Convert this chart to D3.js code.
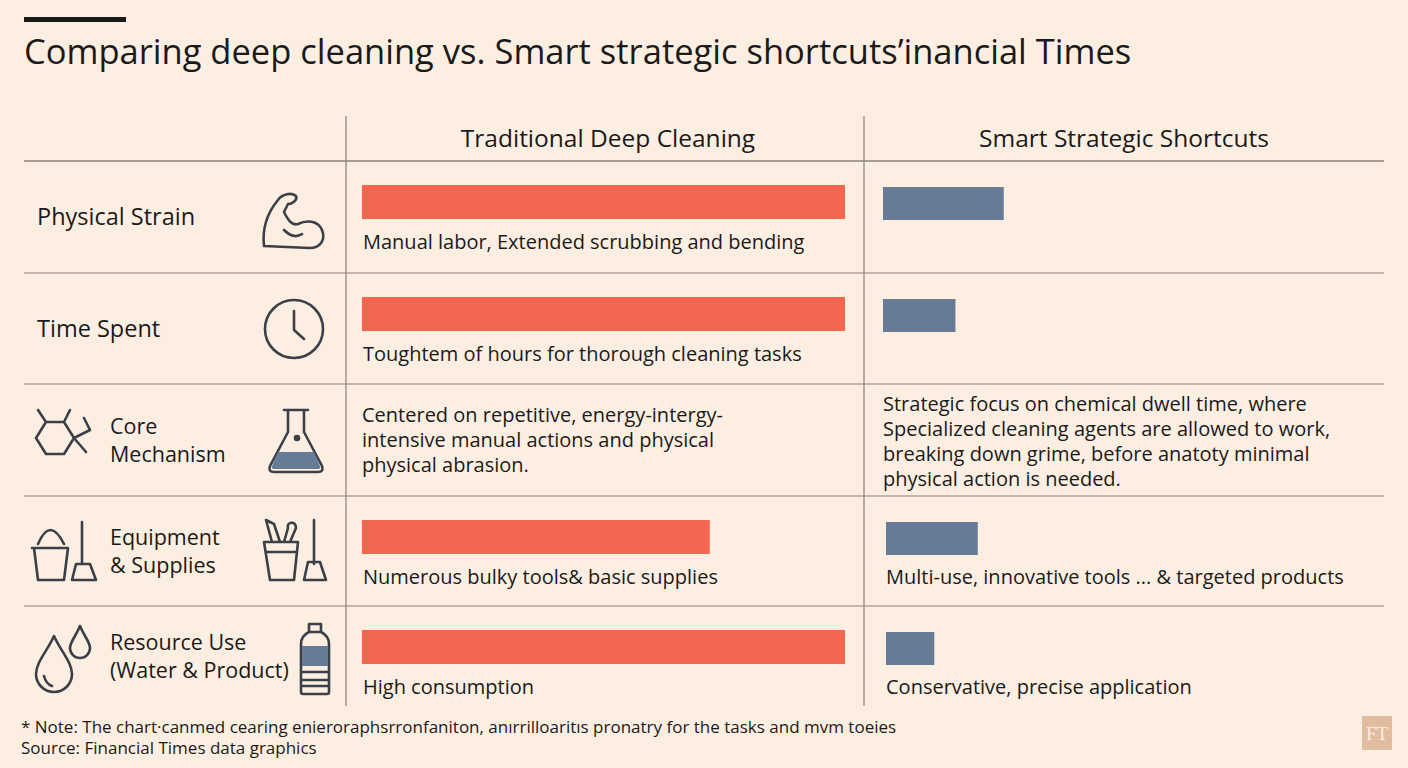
<!DOCTYPE html>
<html>
<head>
<meta charset="utf-8">
<script src="https://cdn.jsdelivr.net/npm/d3@7"></script>
<style>
  body { margin: 0; background: #fdeee2; }
  svg { display: block; font-family: "Open Sans", "Noto Sans", sans-serif; }
</style>
</head>
<body>
<svg id="chart" width="1408" height="768"></svg>
<script>
// Chart data
const categories = ["Physical Strain", "Time Spent", "Core Mechanism", "Equipment & Supplies", "Resource Use (Water & Product)"];
const labelLines = [["Physical Strain"], ["Time Spent"], ["Core", "Mechanism"], ["Equipment", "& Supplies"], ["Resource Use", "(Water & Product)"]];
const traditionalValues = [100, 100, null, 72, 100];
const smartValues = [25, 15, null, 19, 10];
const traditionalNotes = [
  ["Manual labor, Extended scrubbing and bending"],
  ["Toughtem of hours for thorough cleaning tasks"],
  ["Centered on repetitive, energy-intergy-", "intensive manual actions and physical", "physical abrasion."],
  ["Numerous bulky tools& basic supplies"],
  ["High consumption"]
];
const smartNotes = [
  [], [],
  ["Strategic focus on chemical dwell time, where", "Specialized cleaning agents are allowed to work,", "breaking down grime, before anatoty minimal", "physical action is needed."],
  ["Multi-use, innovative tools ... & targeted products"],
  ["Conservative, precise application"]
];
const columnHeaders = ["Traditional Deep Cleaning", "Smart Strategic Shortcuts"];

const svg = d3.select("#chart");
const ink = "#1a1a1a", iconInk = "#3b4048", grid = "#8a8079";
const redBar = "#f4664f", blueBar = "#687b96";

// Title
svg.append("rect").attr("x", 24).attr("y", 17).attr("width", 102).attr("height", 5).attr("fill", ink);
svg.append("text").attr("x", 24).attr("y", 64).attr("font-size", 34.5).attr("fill", ink)
  .text("Comparing deep cleaning vs. Smart strategic shortcuts\u2019inancial Times");

// Layout
const rowEdges = [161, 273, 384, 496, 606, 706];
const col1 = 346, col2 = 864;
const trad = d3.scaleLinear().domain([0, 100]).range([362, 845]);
const smart = d3.scaleLinear().domain([0, 100]).range([883, 1366]);

// Grid
svg.append("line").attr("x1", 24).attr("x2", 1384).attr("y1", 161).attr("y2", 161).attr("stroke", grid).attr("stroke-width", 1.5);
rowEdges.slice(1, 5).forEach(y => svg.append("line").attr("x1", 24).attr("x2", 1384).attr("y1", y).attr("y2", y).attr("stroke", grid).attr("stroke-width", 1.2));
[col1, col2].forEach(x => svg.append("line").attr("x1", x).attr("x2", x).attr("y1", 116).attr("y2", 706).attr("stroke", grid).attr("stroke-width", 1.2));

// Column headers
svg.selectAll(".hdr").data(columnHeaders).enter().append("text")
  .attr("x", (d, i) => i === 0 ? (col1 + col2) / 2 + 3 : (col2 + 1384) / 2)
  .attr("y", 147).attr("text-anchor", "middle").attr("font-size", 24.5).attr("fill", ink).text(d => d);

// Row labels
const labelX = [37, 37, 110, 110, 110];
categories.forEach((c, i) => {
  const lines = labelLines[i];
  const mid = (rowEdges[i] + rowEdges[i + 1]) / 2;
  lines.forEach((ln, k) => svg.append("text").attr("font-size", lines.length > 1 ? 21.5 : 23.5).attr("fill", ink)
    .attr("x", labelX[i]).attr("y", mid + 8 + (k - (lines.length - 1) / 2) * 28).text(ln));
});

// Bars
const barH = 34;
categories.forEach((c, i) => {
  const top = rowEdges[i];
  if (traditionalValues[i] != null) {
    svg.append("rect").attr("x", trad(0)).attr("y", top + 24).attr("width", trad(traditionalValues[i]) - trad(0)).attr("height", barH).attr("fill", redBar);
    svg.append("rect").attr("x", smart(0) + (i >= 3 ? 3 : 0)).attr("y", top + 26).attr("width", smart(smartValues[i]) - smart(0)).attr("height", barH - 1).attr("fill", blueBar);
    svg.append("text").attr("x", trad(0) + 1).attr("y", top + 88).attr("font-size", 20).attr("fill", ink).text(traditionalNotes[i][0]);
    if (smartNotes[i].length) svg.append("text").attr("x", smart(0) + 3).attr("y", top + 88).attr("font-size", 20).attr("fill", ink).text(smartNotes[i][0]);
  } else {
    traditionalNotes[i].forEach((ln, k) => svg.append("text").attr("x", trad(0)).attr("y", top + 38 + k * 25).attr("font-size", 20).attr("fill", ink).text(ln));
    smartNotes[i].forEach((ln, k) => svg.append("text").attr("x", smart(0)).attr("y", top + 27 + k * 25).attr("font-size", 20).attr("fill", ink).text(ln));
  }
});

// Icons
function icon(x, y) { return svg.append("g").attr("transform", `translate(${x},${y})`)
  .attr("fill", "none").attr("stroke", iconInk).attr("stroke-width", 2.6).attr("stroke-linecap", "round").attr("stroke-linejoin", "round"); }

// arm
icon(262, 190).append("path").attr("d", "M2 56 C0 38 6 22 16 10 C20 4 30 2 34 6 C36 10 30 14 26 14 L22 22 C26 30 30 36 36 34 C44 30 56 30 60 40 C64 50 58 58 48 58 Z M22 40 C28 46 34 48 40 44");
// clock
const clk = icon(264, 299);
clk.append("circle").attr("cx", 30).attr("cy", 30).attr("r", 29);
clk.append("path").attr("d", "M30 12 L30 31 L40 40");
// molecule
icon(34, 410).append("path").attr("d", "M12 12 L30 12 L40 28 L30 44 L12 44 L2 28 Z M12 12 L4 0 M30 12 L36 0 M40 28 L56 20 M40 28 L52 42 M50 8 L56 20");
// flask
const fl = icon(266, 408);
fl.append("path").attr("d", "M18 2 L42 2 M22 2 L22 24 L4 58 Q2 64 8 64 L52 64 Q58 64 56 58 L38 24 L38 2");
fl.append("path").attr("d", "M12 44 L48 44 L54 58 Q55 61 52 61 L8 61 Q5 61 6 58 Z").attr("fill", blueBar).attr("stroke", "none");
fl.append("circle").attr("cx", 31).attr("cy", 30).attr("r", 2).attr("fill", iconInk);
// bucket + broom
const bk = icon(30, 518);
bk.append("path").attr("d", "M2 30 L38 30 M4 30 L8 62 L34 62 L38 30 M8 26 Q20 -2 34 26");
bk.append("path").attr("d", "M52 4 L52 46 M42 62 L46 46 L60 46 L66 62 Z");
// cup with tools + brush
const tl = icon(262, 518);
tl.append("path").attr("d", "M2 24 L36 24 L32 62 L8 62 Z M4 34 L34 34 M10 24 L4 2 L12 6 L18 24 M22 24 L26 10 C24 4 34 2 34 10 L28 24");
tl.append("path").attr("d", "M52 2 L52 46 M42 62 L46 44 L58 44 L64 62 Z");
// drops
const dr = icon(32, 626);
dr.append("path").attr("d", "M22 10 C16 24 4 36 4 48 A18 18 0 0 0 40 48 C40 36 28 24 22 10 Z M12 50 Q14 58 20 60");
dr.append("path").attr("d", "M48 0 C44 10 38 16 38 22 A10 10 0 0 0 58 22 C58 16 52 10 48 0 Z");
// bottle
const bt = icon(299, 622);
bt.append("path").attr("d", "M10 2 L22 2 L22 10 L10 10 Z M10 10 Q2 14 2 22 L2 70 Q2 72 4 72 L28 72 Q30 72 30 70 L30 22 Q30 14 22 10 M2 50 L30 50 M2 58 L30 58 M2 64 L30 64");
bt.append("rect").attr("x", 3).attr("y", 24).attr("width", 26).attr("height", 20).attr("fill", blueBar).attr("stroke", "none");

// Footer
svg.append("text").attr("x", 21).attr("y", 733).attr("font-size", 17).attr("fill", ink)
  .text("* Note: The chart\u00b7canmed cearing enieroraphsrronfaniton, anırrilloaritıs pronatry for the tasks and mvm toeies");
svg.append("text").attr("x", 21).attr("y", 754).attr("font-size", 17).attr("fill", ink).text("Source: Financial Times data graphics");
svg.append("rect").attr("x", 1362).attr("y", 716).attr("width", 30).attr("height", 34).attr("fill", "#e2bc9e");
svg.append("text").attr("x", 1377).attr("y", 740).attr("text-anchor", "middle").attr("font-family", "Liberation Serif, serif").attr("font-size", 19).attr("fill", "#fdeee2").text("FT");
</script>
</body>
</html>
